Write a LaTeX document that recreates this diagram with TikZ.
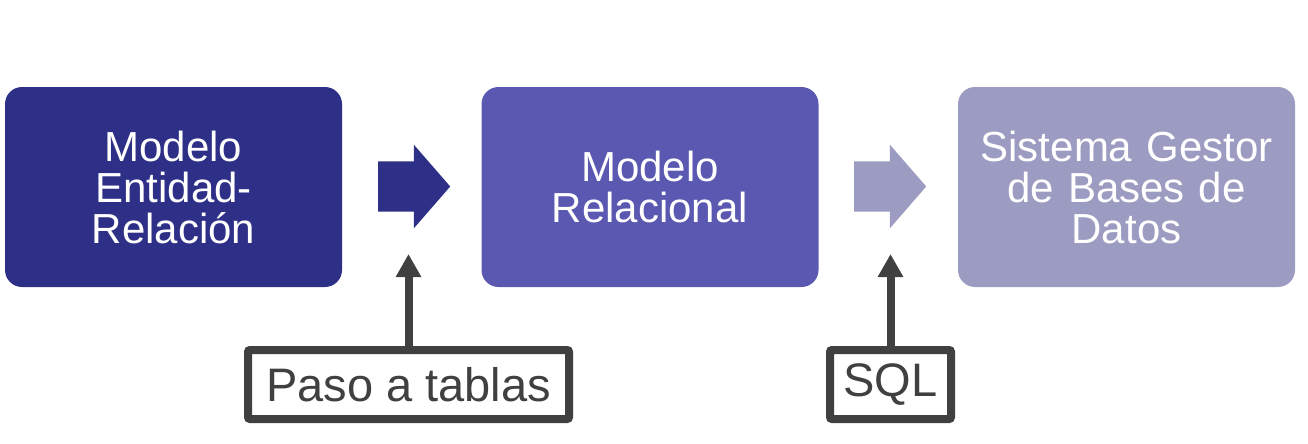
\documentclass[tikz,border=0pt]{standalone}
\usepackage{fontspec}
\setmainfont{Liberation Sans}
\usetikzlibrary{shapes.arrows,arrows.meta}
\definecolor{er}{HTML}{2E3087}
\definecolor{rel}{HTML}{5A58B0}
\definecolor{sgbd}{HTML}{9C9BC1}
\definecolor{gris}{HTML}{404040}

\begin{document}
\begin{tikzpicture}[x=1pt,y=-1pt,
    modelo/.style={rounded corners=17pt, minimum width=337pt, minimum height=200pt,
      text=white, align=center, text width=320pt, inner sep=0pt,
      font={\fontsize{42pt}{41pt}\selectfont}},
    paso/.style={single arrow, single arrow head extend=16.5pt, single arrow tip angle=98,
      minimum height=72pt, minimum width=83pt, inner sep=25pt, inner xsep=0pt, anchor=tail},
    etiqueta/.style={draw=gris, line width=8pt, rounded corners=2pt, fill=white,
      text=gris, minimum height=69pt, inner xsep=10pt,
      font={\fontsize{47pt}{47pt}\selectfont}},
    flecha/.style={gris, line width=8pt, -{Triangle[width=24pt,length=23pt]}}]
  \useasboundingbox (0,0) rectangle (1308,444);
  % modelos
  \node[modelo, fill=er] (er) at (173.5,187) {Modelo\\Entidad-\\Relación};
  \node[modelo, fill=rel] (rel) at (650,187) {Modelo\\Relacional};
  \node[modelo, fill=sgbd] (sgbd) at (1126.5,187) {Sistema Gestor\\de Bases de\\Datos};
  % flechas entre modelos
  \node[paso, fill=er] (paso1) at (378,186.5) {};
  \node[paso, fill=sgbd] (paso2) at (854,186.5) {};
  % etiquetas
  \node[etiqueta, minimum width=321pt] (tablas) at (408.5,384.5) {Paso a tablas};
  \node[etiqueta, minimum width=121pt] (sql) at (890.5,384.5) {SQL};
  \coordinate (p1) at (408.5,254);
  \coordinate (p2) at (890.5,254);
  \draw[flecha] (tablas.north) -- (p1);
  \draw[flecha] (sql.north) -- (p2);
\end{tikzpicture}
\end{document}
